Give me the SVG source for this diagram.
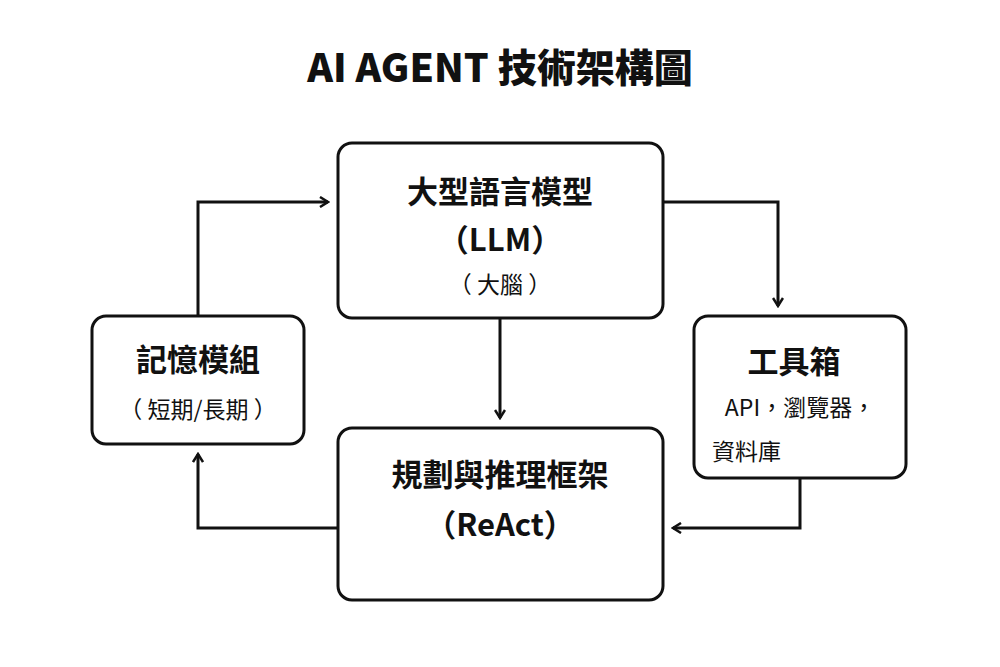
<svg xmlns="http://www.w3.org/2000/svg" width="1000" height="667" viewBox="0 0 1000 667">
<style>
.box{fill:#fff;stroke:#111;stroke-width:3}
.c{fill:none;stroke:#111;stroke-width:3}
text{font-family:"Noto Sans CJK TC","Noto Sans",sans-serif;fill:#111;text-anchor:middle}
.b{font-weight:bold;font-size:31px}
.r{font-size:23px}
</style>
<defs>
<marker id="a" viewBox="0 0 12 12" refX="10" refY="6" markerWidth="12" markerHeight="12" markerUnits="userSpaceOnUse" orient="auto">
<polyline points="2,1 10,6 2,11" fill="none" stroke="#111" stroke-width="2.5"/>
</marker>
</defs>
<rect width="1000" height="667" fill="#fff"/>
<text x="500" y="82" font-size="39" font-weight="900">AI AGENT 技術架構圖</text>
<g id="connectors">
<polyline class="c" points="198,316 198,202 328,202" marker-end="url(#a)"/>
<polyline class="c" points="663,202 778,202 778,306" marker-end="url(#a)"/>
<polyline class="c" points="500,318 500,418" marker-end="url(#a)"/>
<polyline class="c" points="800,478 800,528 673,528" marker-end="url(#a)"/>
<polyline class="c" points="338,528 198,528 198,454" marker-end="url(#a)"/>
</g>
<g id="llm">
<rect class="box" x="338" y="143" width="325" height="175" rx="14"/>
<text class="b" x="500" y="203">大型語言模型</text>
<text class="b" x="500" y="251">（LLM）</text>
<text class="r" x="500" y="293">（ 大腦 ）</text>
</g>
<g id="memory">
<rect class="box" x="92" y="316" width="212" height="128" rx="14"/>
<text class="b" x="198" y="371">記憶模組</text>
<text class="r" x="198" y="418">（ 短期/長期 ）</text>
</g>
<g id="tools">
<rect class="box" x="694" y="316" width="212" height="162" rx="14"/>
<text class="b" x="794" y="373" font-size="34">工具箱</text>
<text class="r" x="800" y="416" font-size="25">API，瀏覽器，</text>
<text class="r" x="712" y="460" style="text-anchor:start">資料庫</text>
</g>
<g id="react">
<rect class="box" x="338" y="428" width="325" height="172" rx="14"/>
<text class="b" x="500" y="486">規劃與推理框架</text>
<text class="b" x="500" y="536">（ReAct）</text>
</g>
</svg>
